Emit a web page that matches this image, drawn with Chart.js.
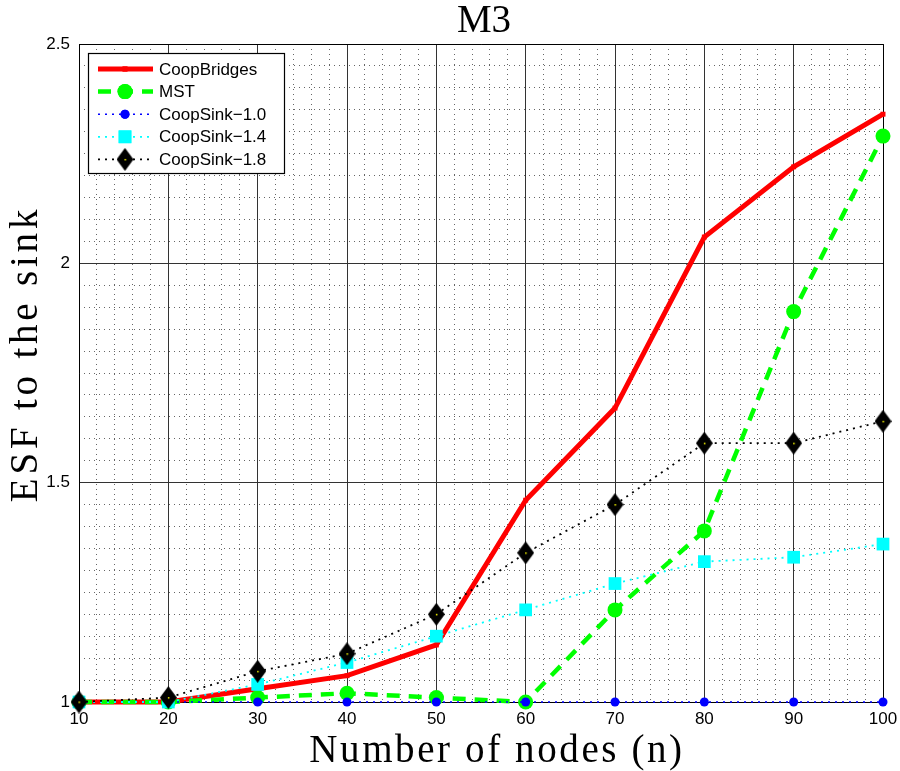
<!DOCTYPE html>
<html>
<head>
<meta charset="utf-8">
<script src="https://cdn.jsdelivr.net/npm/chart.js@4/dist/chart.umd.min.js"></script>
<style>
  html, body { margin: 0; padding: 0; background: #fff; }
  #wrap { width: 900px; height: 771px; }
</style>
</head>
<body>
<div id="wrap"><canvas id="myChart" width="900" height="771"></canvas></div>
<script>
// data
const nodes = [10, 20, 30, 40, 50, 60, 70, 80, 90, 100];
const coopBridges = [1.00, 1.00, 1.03, 1.06, 1.13, 1.46, 1.67, 2.06, 2.22, 2.34];
const mst = [1.00, 1.00, 1.01, 1.02, 1.01, 1.00, 1.21, 1.39, 1.89, 2.29];
const coopSink10 = [1, 1, 1, 1, 1, 1, 1, 1, 1, 1];
const coopSink14 = [1.00, 1.00, 1.04, 1.09, 1.15, 1.21, 1.27, 1.32, 1.33, 1.36];
const coopSink18 = [1.00, 1.01, 1.07, 1.11, 1.20, 1.34, 1.45, 1.59, 1.59, 1.64];
const seriesNames = ['CoopBridges', 'MST', 'CoopSink\u22121.0', 'CoopSink\u22121.4', 'CoopSink\u22121.8'];
const xTicks = [10, 20, 30, 40, 50, 60, 70, 80, 90, 100];
const yTicks = [1, 1.5, 2, 2.5];
const chartTitle = 'M3';
const xTitle = 'Number of nodes (n)';
const yTitle = 'ESF to the sink';

function pts(ys) {
  return nodes.map((n, i) => ({ x: n, y: ys[i] }));
}

// diamond marker (taller than wide, like matlab)
function makeDiamond() {
  const c = document.createElement('canvas');
  c.width = 17; c.height = 23;
  const g = c.getContext('2d');
  g.fillStyle = '#000';
  g.beginPath();
  g.moveTo(8.5, 0); g.lineTo(17, 11.5); g.lineTo(8.5, 23); g.lineTo(0, 11.5);
  g.closePath(); g.fill();
  g.fillStyle = '#ffff00';
  g.fillRect(8, 11, 1.5, 1.5);
  return c;
}
const diamond = makeDiamond();

const tickFont = { family: 'Liberation Sans', size: 17 };
const serif = '39px "Liberation Serif"';

// titles (drawn by hand to get the latex-like spacing)
const titles = {
  id: 'titles',
  afterDraw(chart) {
    const a = chart.chartArea;
    const ctx = chart.ctx;
    ctx.save();
    ctx.fillStyle = '#000';
    ctx.font = serif;
    ctx.textAlign = 'center';
    ctx.textBaseline = 'alphabetic';
    ctx.fillText(chartTitle, (a.left + a.right) / 2 + 3, 32);
    ctx.letterSpacing = '2.6px';
    ctx.fillText(xTitle, 497, 762);
    ctx.letterSpacing = '3.8px';
    ctx.translate(37, 354);
    ctx.rotate(-Math.PI / 2);
    ctx.fillText(yTitle, 0, 0);
    ctx.restore();
  }
};

// legend drawn inside the axes, top-left
const insideLegend = {
  id: 'insideLegend',
  afterDraw(chart) {
    const ctx = chart.ctx;
    const x0 = 88, y0 = 53, w = 196, h = 120;
    ctx.save();
    ctx.fillStyle = '#fff';
    ctx.fillRect(x0, y0, w, h);
    ctx.strokeStyle = '#000';
    ctx.lineWidth = 1.2;
    ctx.strokeRect(x0 + 0.5, y0 + 0.5, w, h);
    chart.data.datasets.forEach((ds, i) => {
      const y = 69 + i * 22.6;
      ctx.save();
      ctx.strokeStyle = ds.borderColor;
      ctx.lineWidth = ds.borderWidth;
      ctx.setLineDash(ds.borderDash || []);
      ctx.beginPath();
      ctx.moveTo(98, y); ctx.lineTo(153, y);
      ctx.stroke();
      ctx.restore();
      ctx.fillStyle = ds.pointBackgroundColor;
      ctx.beginPath();
      Chart.helpers.drawPoint(ctx, { pointStyle: ds.pointStyle, radius: ds.pointRadius, borderWidth: 0, rotation: 0 }, 125, y);
      ctx.fill();
      ctx.fillStyle = '#000';
      ctx.font = '17px "Liberation Sans"';
      ctx.textBaseline = 'middle';
      ctx.textAlign = 'left';
      ctx.fillText(ds.label, 159, y + 1);
    });
    ctx.restore();
  }
};

// top and right edges of the axes box
const axesBox = {
  id: 'axesBox',
  beforeDatasetsDraw(chart) {
    const a = chart.chartArea;
    const ctx = chart.ctx;
    ctx.save();
    ctx.strokeStyle = '#000';
    ctx.lineWidth = 1;
    ctx.beginPath();
    ctx.moveTo(a.left, a.top + 0.5);
    ctx.lineTo(a.right + 0.5, a.top + 0.5);
    ctx.lineTo(a.right + 0.5, a.bottom);
    ctx.stroke();
    ctx.restore();
  }
};

new Chart(
  document.getElementById('myChart').getContext('2d'),
  {
    type: 'line',
    data: {
      datasets: [
        {
          label: seriesNames[0], data: pts(coopBridges),
          borderColor: '#ff0000', backgroundColor: '#ff0000', borderWidth: 5,
          pointStyle: 'rect', pointRadius: 3.5, pointBackgroundColor: '#ff0000', pointBorderWidth: 0,
          order: 5, clip: false
        },
        {
          label: seriesNames[1], data: pts(mst),
          borderColor: '#00ff00', backgroundColor: '#00ff00', borderWidth: 4.5, borderDash: [13, 9],
          pointStyle: 'circle', pointRadius: 7.5, pointBackgroundColor: '#00ff00', pointBorderWidth: 0,
          order: 4, clip: false
        },
        {
          label: seriesNames[2], data: pts(coopSink10),
          borderColor: '#0000ff', backgroundColor: '#0000ff', borderWidth: 1.5, borderDash: [2, 5],
          pointStyle: 'circle', pointRadius: 4.5, pointBackgroundColor: '#0000ff', pointBorderWidth: 0,
          order: 3, clip: false
        },
        {
          label: seriesNames[3], data: pts(coopSink14),
          borderColor: '#00ffff', backgroundColor: '#00ffff', borderWidth: 1.8, borderDash: [2, 5],
          pointStyle: 'rect', pointRadius: 9, pointBackgroundColor: '#00ffff', pointBorderWidth: 0,
          order: 2, clip: false
        },
        {
          label: seriesNames[4], data: pts(coopSink18),
          borderColor: '#000000', backgroundColor: '#000000', borderWidth: 1.8, borderDash: [2, 5],
          pointStyle: diamond, pointRadius: 10, pointBackgroundColor: '#000000', pointBorderWidth: 0,
          order: 1, clip: false
        }
      ]
    },
    plugins: [axesBox, insideLegend, titles],
    options: {
      responsive: false,
      animation: false,
      layout: { padding: { left: 0, right: 17, top: 44, bottom: 0 } },
      plugins: {
        legend: { display: false },
        tooltip: { enabled: false },
        title: { display: false }
      },
      scales: {
        xm: {
          type: 'linear', position: 'bottom', min: 10, max: 100,
          ticks: { display: false, stepSize: 2, maxTicksLimit: 100 },
          grid: { color: '#666', lineWidth: 1, drawTicks: false },
          border: { display: false, dash: [1, 4] },
          afterFit(s) { s.height = 0; s.paddingRight = 0; s.paddingLeft = 0; }
        },
        ym: {
          type: 'linear', position: 'left', min: 1, max: 2.5,
          ticks: { display: false, stepSize: 0.05, maxTicksLimit: 100 },
          grid: { color: '#666', lineWidth: 1, drawTicks: false },
          border: { display: false, dash: [1, 4] },
          afterFit(s) { s.width = 0; s.paddingTop = 0; s.paddingBottom = 0; }
        },
        x: {
          type: 'linear', position: 'bottom', min: 10, max: 100,
          afterBuildTicks(s) { s.ticks = xTicks.map(v => ({ value: v })); },
          ticks: { color: '#000', font: tickFont, padding: 7, maxRotation: 0 },
          grid: { color: '#333', lineWidth: 1, drawTicks: false },
          border: { display: true, color: '#000', width: 1 },
          afterFit(s) { s.height = 69; s.paddingRight = 0; s.paddingLeft = 0; }
        },
        y: {
          type: 'linear', position: 'left', min: 1, max: 2.5,
          afterBuildTicks(s) { s.ticks = yTicks.map(v => ({ value: v })); },
          ticks: { color: '#000', font: tickFont, padding: 9, callback: v => String(v) },
          grid: { color: '#333', lineWidth: 1, drawTicks: false },
          border: { display: true, color: '#000', width: 1 },
          afterFit(s) { s.width = 79; s.paddingTop = 0; s.paddingBottom = 0; }
        }
      }
    }
  }
);
</script>
</body>
</html>
